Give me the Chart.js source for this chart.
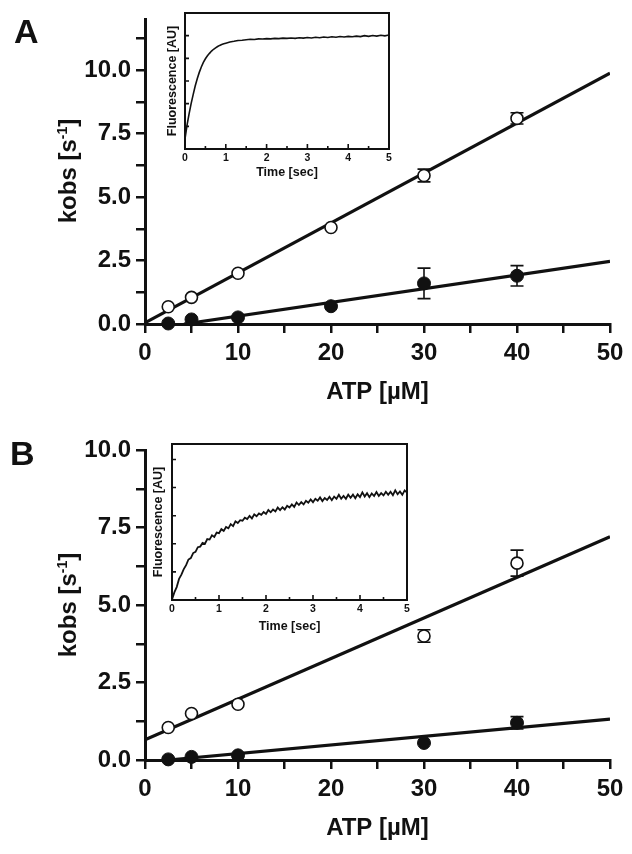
<!DOCTYPE html>
<html>
<head>
<meta charset="utf-8">
<script src="https://cdn.jsdelivr.net/npm/chart.js"></script>
<style>
  body { margin: 0; background: #fff; }
  #wrap { position: relative; width: 632px; height: 854px; overflow: hidden;
          font-family: "Liberation Sans", Arial, sans-serif; font-weight: bold; color: #111; }
  canvas { position: absolute; }
  .panel { position: absolute; font-size: 34px; line-height: 34px; }
  .ytitle { position: absolute; width: 200px; height: 24px; text-align: center; font-size: 24px;
            line-height: 24px; transform: rotate(-90deg); white-space: nowrap; }
  .ytitle sup { font-size: 14px; vertical-align: 9px; line-height: 0; }
</style>
</head>
<body>
<div id="wrap">
  <canvas id="mainA" width="632" height="420" style="left:0;top:0;width:632px;height:420px"></canvas>
  <canvas id="insetA" width="250" height="185" style="left:150px;top:0;width:250px;height:185px"></canvas>
  <canvas id="mainB" width="632" height="424" style="left:0;top:430px;width:632px;height:424px"></canvas>
  <canvas id="insetB" width="290" height="210" style="left:130px;top:430px;width:290px;height:210px"></canvas>
  <div class="panel" style="left:14px;top:14px">A</div>
  <div class="panel" style="left:10px;top:436px">B</div>
  <div class="ytitle" style="left:-32px;top:159px">kobs [s<sup>-1</sup>]</div>
  <div class="ytitle" style="left:-32px;top:593px">kobs [s<sup>-1</sup>]</div>
</div>
<script>
// ---- panel A data ----
const atpA = [2.5, 5, 10, 20, 30, 40];
const openA = [0.68, 1.05, 2.0, 3.8, 5.85, 8.1];
const openErrA = [0, 0, 0, 0, 0.25, 0.22];
const filledA = [0.02, 0.18, 0.26, 0.7, 1.6, 1.9];
const filledErrA = [0, 0, 0, 0, 0.6, 0.4];
const fitOpenAX = [0, 50], fitOpenAY = [0.05, 9.88];
const fitFilledAX = [4.2, 50], fitFilledAY = [0, 2.47];

// ---- panel B data ----
const atpB = [2.5, 5, 10, 30, 40];
const openB = [1.05, 1.5, 1.8, 4.0, 6.35];
const openErrB = [0, 0, 0, 0.2, 0.42];
const filledB = [0.02, 0.1, 0.15, 0.55, 1.2];
const filledErrB = [0, 0, 0, 0, 0.2];
const fitOpenBX = [0, 50], fitOpenBY = [0.65, 7.2];
const fitFilledBX = [2.5, 50], fitFilledBY = [0, 1.32];

// ---- axis ticks ----
const atpTicks = [0, 5, 10, 15, 20, 25, 30, 35, 40, 45, 50];
const kobsTicksA = [0, 1.25, 2.5, 3.75, 5, 6.25, 7.5, 8.75, 10, 11.25];
const kobsTicksB = [0, 1.25, 2.5, 3.75, 5, 6.25, 7.5, 8.75, 10];
const timeTicks = [0, 1, 2, 3, 4, 5];
const timeMinor = [0.5, 1.5, 2.5, 3.5, 4.5];
const fluoTicks = [1, 2, 3, 4, 5];

// ---- inset A trace ----
const insetATime = [0, 0.05, 0.1, 0.15, 0.2, 0.25, 0.3, 0.35, 0.4, 0.45, 0.5, 0.55, 0.6, 0.65, 0.7, 0.75, 0.8, 0.85, 0.9, 0.95, 1.0,
  1.1, 1.2, 1.3, 1.4, 1.5, 1.6, 1.7, 1.8, 1.9, 2.0, 2.1, 2.2, 2.3, 2.4, 2.5, 2.6, 2.7, 2.8, 2.9, 3.0,
  3.1, 3.2, 3.3, 3.4, 3.5, 3.6, 3.7, 3.8, 3.9, 4.0, 4.1, 4.2, 4.3, 4.4, 4.5, 4.6, 4.7, 4.8, 4.9, 5.0];
const insetAFluo = [0.45, 1.05, 1.55, 2.0, 2.4, 2.78, 3.1, 3.38, 3.62, 3.82, 3.98, 4.11, 4.22, 4.32, 4.4, 4.46, 4.52, 4.57, 4.61, 4.64, 4.67,
  4.72, 4.75, 4.79, 4.8, 4.82, 4.84, 4.83, 4.86, 4.85, 4.87, 4.86, 4.88, 4.87, 4.89, 4.88, 4.9, 4.88, 4.91, 4.89, 4.92,
  4.9, 4.93, 4.91, 4.94, 4.92, 4.95, 4.93, 4.96, 4.94, 4.97, 4.95, 4.98, 4.96, 5.0, 4.97, 5.01, 4.98, 5.02, 4.99, 5.03];

// ---- inset B trace ----
const insetBTime = [0, 0.05, 0.1, 0.15, 0.2, 0.25, 0.3, 0.35, 0.4, 0.45, 0.5, 0.55, 0.6, 0.65, 0.7, 0.75, 0.8, 0.85, 0.9, 0.95,
  1.0, 1.05, 1.1, 1.15, 1.2, 1.25, 1.3, 1.35, 1.4, 1.45, 1.5, 1.55, 1.6, 1.65, 1.7, 1.75, 1.8, 1.85, 1.9, 1.95,
  2.0, 2.05, 2.1, 2.15, 2.2, 2.25, 2.3, 2.35, 2.4, 2.45, 2.5, 2.55, 2.6, 2.65, 2.7, 2.75, 2.8, 2.85, 2.9, 2.95,
  3.0, 3.05, 3.1, 3.15, 3.2, 3.25, 3.3, 3.35, 3.4, 3.45, 3.5, 3.55, 3.6, 3.65, 3.7, 3.75, 3.8, 3.85, 3.9, 3.95,
  4.0, 4.05, 4.1, 4.15, 4.2, 4.25, 4.3, 4.35, 4.4, 4.45, 4.5, 4.55, 4.6, 4.65, 4.7, 4.75, 4.8, 4.85, 4.9, 4.95, 5.0];
const insetBFluo = [0.02, 0.27, 0.46, 0.75, 0.9, 1.1, 1.24, 1.44, 1.49, 1.67, 1.71, 1.88, 1.9, 2.03, 2.0, 2.17, 2.15, 2.3, 2.24, 2.4,
  2.38, 2.52, 2.46, 2.6, 2.55, 2.7, 2.63, 2.8, 2.74, 2.84, 2.82, 2.93, 2.88, 2.99, 2.9, 3.05, 2.98, 3.08, 3.03, 3.13,
  3.06, 3.2, 3.12, 3.22, 3.15, 3.29, 3.2, 3.3, 3.22, 3.35, 3.29, 3.4, 3.31, 3.47, 3.38, 3.48, 3.4, 3.53, 3.46, 3.58,
  3.48, 3.6, 3.53, 3.65, 3.52, 3.63, 3.56, 3.67, 3.55, 3.68, 3.6, 3.74, 3.6, 3.7, 3.6, 3.75, 3.64, 3.75, 3.62, 3.76,
  3.66, 3.83, 3.68, 3.8, 3.66, 3.79, 3.7, 3.84, 3.7, 3.8, 3.72, 3.85, 3.74, 3.85, 3.73, 3.9, 3.76, 3.86, 3.74, 3.9, 3.82];

Chart.defaults.font.family = '"Liberation Sans", Arial, sans-serif';
Chart.defaults.font.weight = 'bold';
Chart.defaults.color = '#111';

const INK = '#111';

function pts(xs, ys) {
  return xs.map((x, i) => ({ x: x, y: ys[i] }));
}

// error bars, drawn under the symbols
const errorBars = {
  id: 'errorBars',
  beforeDatasetsDraw(chart) {
    const ctx = chart.ctx, xs = chart.scales.x, ys = chart.scales.y;
    ctx.save();
    ctx.strokeStyle = INK;
    ctx.lineWidth = 1.6;
    chart.data.datasets.forEach(ds => {
      if (!ds.errors) return;
      ds.data.forEach((p, i) => {
        const e = ds.errors[i];
        if (!e) return;
        const px = xs.getPixelForValue(p.x);
        const top = ys.getPixelForValue(p.y + e);
        const bot = ys.getPixelForValue(p.y - e);
        ctx.beginPath();
        ctx.moveTo(px, top); ctx.lineTo(px, bot);
        ctx.moveTo(px - 6.5, top); ctx.lineTo(px + 6.5, top);
        ctx.moveTo(px - 6.5, bot); ctx.lineTo(px + 6.5, bot);
        ctx.stroke();
      });
    });
    ctx.restore();
  }
};

// box and inward ticks of the small plots
const insetFrame = {
  id: 'insetFrame',
  afterDraw(chart) {
    const ctx = chart.ctx, a = chart.chartArea;
    const xs = chart.scales.x, ys = chart.scales.y;
    ctx.save();
    ctx.strokeStyle = INK;
    ctx.lineWidth = 2;
    ctx.strokeRect(a.left, a.top, a.right - a.left, a.bottom - a.top);
    ctx.lineWidth = 1.6;
    ctx.beginPath();
    timeTicks.forEach(v => {
      const px = xs.getPixelForValue(v);
      ctx.moveTo(px, a.bottom); ctx.lineTo(px, a.bottom - 5);
    });
    timeMinor.forEach(v => {
      const px = xs.getPixelForValue(v);
      ctx.moveTo(px, a.bottom); ctx.lineTo(px, a.bottom - 3);
    });
    fluoTicks.forEach(v => {
      const py = ys.getPixelForValue(v);
      ctx.moveTo(a.left, py); ctx.lineTo(a.left + 4, py);
    });
    ctx.stroke();
    ctx.restore();
  }
};

function mainChart(id, d) {
  new Chart(document.getElementById(id), {
    type: 'scatter',
    data: {
      datasets: [
        { data: d.fitOpen, showLine: true, borderColor: INK, borderWidth: 3.2, pointRadius: 0, order: 3 },
        { data: d.fitFilled, showLine: true, borderColor: INK, borderWidth: 3.2, pointRadius: 0, order: 3 },
        { data: d.open, errors: d.openErr, pointRadius: 6, pointBackgroundColor: '#fff',
          pointBorderColor: INK, pointBorderWidth: 1.6, order: 1, clip: false },
        { data: d.filled, errors: d.filledErr, pointRadius: 6.5, pointBackgroundColor: INK,
          pointBorderColor: INK, pointBorderWidth: 1, order: 1, clip: false }
      ]
    },
    options: {
      responsive: false,
      animation: false,
      layout: { padding: { left: 0, right: 22, top: d.padTop, bottom: 0 } },
      plugins: { legend: { display: false }, tooltip: { enabled: false } },
      scales: {
        x: {
          type: 'linear', min: 0, max: 50,
          afterBuildTicks: s => { s.ticks = atpTicks.map(v => ({ value: v })); },
          afterFit: s => { s.height = d.xHeight; },
          grid: { drawOnChartArea: false, drawTicks: true, tickLength: 9, lineWidth: 2.5, color: INK },
          border: { display: true, width: 3, color: INK },
          ticks: { autoSkip: false, maxRotation: 0, padding: 5.5, font: { size: 24, weight: 'bold' },
                   callback: v => (v % 10 === 0 ? String(v) : '') },
          title: { display: true, text: 'ATP [µM]', font: { size: 24, weight: 'bold' },
                   padding: { top: 0, bottom: d.titlePad } }
        },
        y: {
          type: 'linear', min: 0, max: d.yMax,
          afterBuildTicks: s => { s.ticks = d.yTicks.map(v => ({ value: v })); },
          afterFit: s => { s.width = 145; },
          grid: { drawOnChartArea: false, drawTicks: true, tickLength: 9, lineWidth: 2.5, color: INK },
          border: { display: true, width: 3, color: INK },
          ticks: { autoSkip: false, padding: 5, font: { size: 24, weight: 'bold' },
                   callback: v => (Math.abs(v / 2.5 - Math.round(v / 2.5)) < 1e-6 ? v.toFixed(1) : '') }
        }
      }
    },
    plugins: [errorBars]
  });
}

function insetChart(id, d) {
  new Chart(document.getElementById(id), {
    type: 'scatter',
    data: {
      datasets: [{ data: d.trace, showLine: true, borderColor: INK, borderWidth: d.lw, pointRadius: 0 }]
    },
    options: {
      responsive: false,
      animation: false,
      layout: { padding: { left: 0, right: d.padRight, top: d.padTop, bottom: 0 } },
      plugins: { legend: { display: false }, tooltip: { enabled: false } },
      scales: {
        x: {
          type: 'linear', min: 0, max: 5,
          afterBuildTicks: s => { s.ticks = timeTicks.map(v => ({ value: v })); },
          afterFit: s => { s.height = d.xHeight; },
          grid: { display: false, drawTicks: false },
          border: { display: false },
          ticks: { autoSkip: false, maxRotation: 0, padding: 3, font: { size: 10.5, weight: 'bold' } },
          title: { display: true, text: 'Time [sec]', font: { size: 12.5, weight: 'bold' },
                   padding: { top: 0, bottom: d.xTitlePad } }
        },
        y: {
          type: 'linear', min: 0, max: d.yMax,
          afterFit: s => { s.width = d.yWidth; },
          grid: { display: false, drawTicks: false },
          border: { display: false },
          ticks: { display: false },
          title: { display: true, text: 'Fluorescence [AU]', font: { size: 12.5, weight: 'bold' },
                   padding: { top: d.yTitlePad, bottom: 0 } }
        }
      }
    },
    plugins: [insetFrame]
  });
}

mainChart('mainA', {
  open: pts(atpA, openA), openErr: openErrA,
  filled: pts(atpA, filledA), filledErr: filledErrA,
  fitOpen: pts(fitOpenAX, fitOpenAY), fitFilled: pts(fitFilledAX, fitFilledAY),
  yMax: 12, yTicks: kobsTicksA, padTop: 15, xHeight: 96, titlePad: 13.6
});

mainChart('mainB', {
  open: pts(atpB, openB), openErr: openErrB,
  filled: pts(atpB, filledB), filledErr: filledErrB,
  fitOpen: pts(fitOpenBX, fitOpenBY), fitFilled: pts(fitFilledBX, fitFilledBY),
  yMax: 10, yTicks: kobsTicksB, padTop: 20, xHeight: 94, titlePad: 11.6
});

insetChart('insetA', {
  trace: pts(insetATime, insetAFluo), lw: 1.6, yMax: 6,
  padRight: 11, padTop: 13, xHeight: 36, yWidth: 35, xTitlePad: 4.5, yTitlePad: 15.5
});

insetChart('insetB', {
  trace: pts(insetBTime, insetBFluo), lw: 1.8, yMax: 5.55,
  padRight: 13, padTop: 14, xHeight: 40, yWidth: 42, xTitlePad: 5.5, yTitlePad: 21.5
});
</script>
</body>
</html>
